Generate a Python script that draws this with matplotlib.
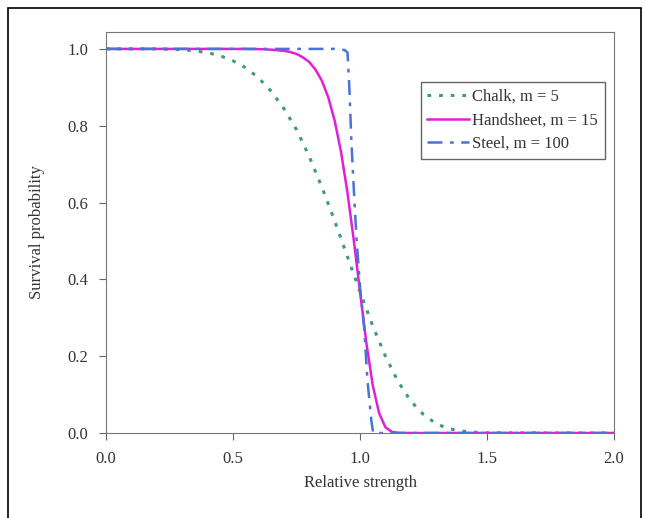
#!/usr/bin/env python3

import matplotlib
matplotlib.use('Agg')
import matplotlib.pyplot as plt
from matplotlib.patches import Rectangle


#------------------------------------------------------------------------------
# Data
#------------------------------------------------------------------------------

chalk_x = [0.0, 0.2, 0.3, 0.35, 0.4, 0.45, 0.5, 0.55, 0.6, 0.65, 0.7, 0.75,
           0.8, 0.85, 0.9, 0.95, 1.0, 1.05, 1.1, 1.15, 1.2, 1.25, 1.3, 1.35,
           1.4, 1.45, 1.5, 2.0]
chalk_y = [1.0, 1.0, 0.998, 0.995, 0.99, 0.982, 0.969, 0.951, 0.925, 0.89,
           0.845, 0.79, 0.72, 0.64, 0.553, 0.46, 0.368, 0.279, 0.20, 0.134,
           0.083, 0.048, 0.024, 0.011, 0.005, 0.002, 0.0005, 0.0]

handsheet_x = [0.0, 0.5, 0.6, 0.65, 0.7, 0.725, 0.75, 0.775, 0.8, 0.825,
               0.85, 0.875, 0.9, 0.925, 0.95, 0.975, 1.0, 1.025, 1.05, 1.075,
               1.1, 1.125, 1.15, 1.2, 2.0]
handsheet_y = [1.0, 1.0, 0.9995, 0.998, 0.995, 0.992, 0.987, 0.978, 0.966,
               0.946, 0.917, 0.874, 0.814, 0.733, 0.629, 0.505, 0.368, 0.235,
               0.125, 0.052, 0.015, 0.003, 0.0003, 0.0, 0.0]

steel_x = [0.0, 0.9, 0.94, 0.951, 0.958, 0.966, 0.976, 0.986, 1.0, 1.017,
           1.029, 1.045, 1.052, 2.0]
steel_y = [1.0, 1.0, 0.997, 0.99, 0.9, 0.76, 0.63, 0.51, 0.38, 0.27, 0.14,
           0.03, 0.0, 0.0]

labels = ['Chalk, m = 5', 'Handsheet, m = 15', 'Steel, m = 100']
x_ticks = [0.0, 0.5, 1.0, 1.5, 2.0]
y_ticks = [0.0, 0.2, 0.4, 0.6, 0.8, 1.0]


#------------------------------------------------------------------------------
# Plot
#------------------------------------------------------------------------------

def plot_survival():
    plt.rcParams['font.family'] = ['Liberation Serif', 'DejaVu Serif']
    plt.rcParams['font.size'] = 11
    text_color = '#333333'

    fig = plt.figure(figsize=(6.45, 5.18), dpi=100)
    fig.patches.append(Rectangle((8 / 645, -0.1), 633 / 645, 1.1 - 8 / 518,
                                 transform=fig.transFigure, fill=False,
                                 edgecolor='black', linewidth=1.2))

    ax = fig.add_axes([106 / 645, 1 - 433 / 518, 508 / 645, 401 / 518])

    ax.plot(chalk_x, chalk_y, color='#3d9a80', linestyle=(0, (1.2, 2.6)),
            linewidth=2.2, label=labels[0])
    ax.plot(handsheet_x, handsheet_y, color='#e020d8', linestyle='-',
            linewidth=1.8, label=labels[1])
    ax.plot(steel_x, steel_y, color='#4b72d8',
            linestyle=(0, (6, 3, 1.5, 3)), linewidth=1.8, label=labels[2])

    ax.set_xlim(0, 2.0)
    ax.set_ylim(0, 1.044)
    ax.set_xticks(x_ticks)
    ax.set_yticks(y_ticks)
    ax.set_xticklabels(['{:.1f}'.format(t) for t in x_ticks])
    ax.set_yticklabels(['{:.1f}'.format(t) for t in y_ticks])
    ax.tick_params(direction='out', length=5, color='#666666',
                   labelcolor=text_color, labelsize=12, pad=8)

    for spine in ax.spines.values():
        spine.set_color('#777777')

    ax.set_xlabel('Relative strength', color=text_color, fontsize=12,
                  labelpad=6)
    ax.set_ylabel('Survival probability', color=text_color, fontsize=12,
                  labelpad=16)

    leg = ax.legend(loc='upper right', bbox_to_anchor=(0.998, 0.895),
                    fancybox=False, edgecolor='#666666', framealpha=1,
                    handlelength=2.5, handletextpad=0.2, borderpad=0.4,
                    labelspacing=0.45, fontsize=12)
    for t in leg.get_texts():
        t.set_color(text_color)
    leg.get_frame().set_linewidth(1.0)

    plt.savefig('out.png', dpi=100)
    plt.close()


if __name__ == '__main__':
    plot_survival()
